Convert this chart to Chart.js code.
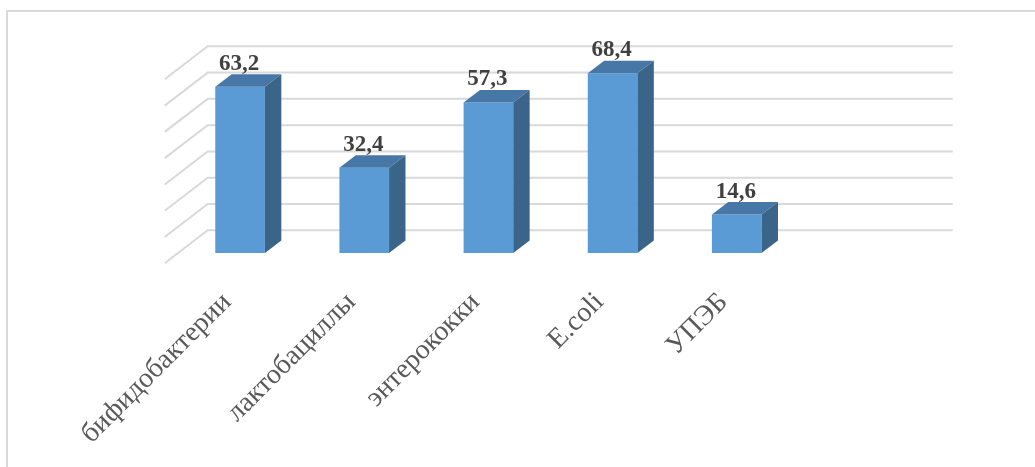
<!DOCTYPE html>
<html lang="ru">
<head>
<meta charset="UTF-8">
<title>Микрофлора</title>
<script src="https://cdn.jsdelivr.net/npm/chart.js@4.4.2/dist/chart.umd.min.js"></script>
<style>
  body { margin: 0; background: #fff; }
  .frame {
    position: absolute; left: 6px; top: 10px;
    width: 1040px; height: 470px;
    border-top: 2px solid #d9d9d9;
    border-left: 2px solid #d9d9d9;
  }
  #bars { position: absolute; left: 0; top: 0; }
</style>
</head>
<body>
<div class="frame"></div>
<canvas id="bars" width="1035" height="467"></canvas>
<script>
// groups on the x axis (last slot is left empty, as in the sheet)
const categories = ['бифидобактерии', 'лактобациллы', 'энтерококки', 'E.coli', 'УПЭБ', ''];
// percentages
const values = [63.2, 32.4, 57.3, 68.4, 14.6, null];
// value axis
const yMin = 0;
const yMax = 70;
const yStep = 10;

// 3d look: back wall is pushed right/up from the plane of the bar fronts
const wallShift = { x: 29.7, y: -22.7 };
const floorDepth = { x: 43, y: -33 };
const barDepth = { x: 16.4, y: -12.5 };

const serif = "'Liberation Serif', 'Times New Roman', serif";

const walls = {
  id: 'walls',
  beforeDatasetsDraw(chart) {
    const { ctx, chartArea, scales } = chart;
    const y = scales.y;
    const x0 = chartArea.left + wallShift.x;
    const x1 = chartArea.right + wallShift.x;
    ctx.save();
    ctx.strokeStyle = '#d9d9d9';
    ctx.lineWidth = 2;
    y.ticks.forEach(t => {
      const py = y.getPixelForValue(t.value) + wallShift.y;
      ctx.beginPath();
      ctx.moveTo(x0 - floorDepth.x, py - floorDepth.y);
      ctx.lineTo(x0, py);
      ctx.lineTo(x1, py);
      ctx.stroke();
    });
    ctx.restore();
  }
};

const blocks = {
  id: 'blocks',
  afterDatasetsDraw(chart) {
    const ctx = chart.ctx;
    ctx.save();
    chart.getDatasetMeta(0).data.forEach((bar, i) => {
      if (values[i] == null) return;
      const { x, y, base, width } = bar.getProps(['x', 'y', 'base', 'width'], true);
      const l = x - width / 2, r = x + width / 2;
      // top face
      ctx.fillStyle = '#4677a7';
      ctx.beginPath();
      ctx.moveTo(l, y);
      ctx.lineTo(l + barDepth.x, y + barDepth.y);
      ctx.lineTo(r + barDepth.x, y + barDepth.y);
      ctx.lineTo(r, y);
      ctx.closePath();
      ctx.fill();
      // right side
      ctx.fillStyle = '#3a6589';
      ctx.beginPath();
      ctx.moveTo(r, y);
      ctx.lineTo(r + barDepth.x, y + barDepth.y);
      ctx.lineTo(r + barDepth.x, base + barDepth.y);
      ctx.lineTo(r, base);
      ctx.closePath();
      ctx.fill();
      // value above the bar
      ctx.fillStyle = '#404040';
      ctx.font = 'bold 23px ' + serif;
      ctx.textAlign = 'center';
      ctx.textBaseline = 'alphabetic';
      ctx.fillText(values[i].toFixed(1).replace('.', ','), x - 1, y - 17);
    });
    ctx.restore();
  }
};

new Chart(document.getElementById('bars'), {
  type: 'bar',
  data: {
    labels: categories,
    datasets: [{
      data: values,
      backgroundColor: '#5b9bd5',
      borderWidth: 0,
      categoryPercentage: 1,
      barPercentage: 0.4
    }]
  },
  options: {
    responsive: false,
    animation: false,
    layout: { padding: { left: 178, right: 112, top: 69, bottom: 0 } },
    plugins: { legend: { display: false }, tooltip: { enabled: false } },
    scales: {
      x: {
        grid: { display: false, drawTicks: false },
        border: { display: false },
        afterFit(scale) { scale.height = 214; },
        ticks: {
          autoSkip: false,
          minRotation: 45,
          maxRotation: 45,
          padding: 33,
          labelOffset: -13,
          color: '#595959',
          font: { family: serif, size: 28 }
        }
      },
      y: {
        display: false,
        min: yMin,
        max: yMax,
        ticks: { stepSize: yStep }
      }
    }
  },
  plugins: [walls, blocks]
});
</script>
</body>
</html>
